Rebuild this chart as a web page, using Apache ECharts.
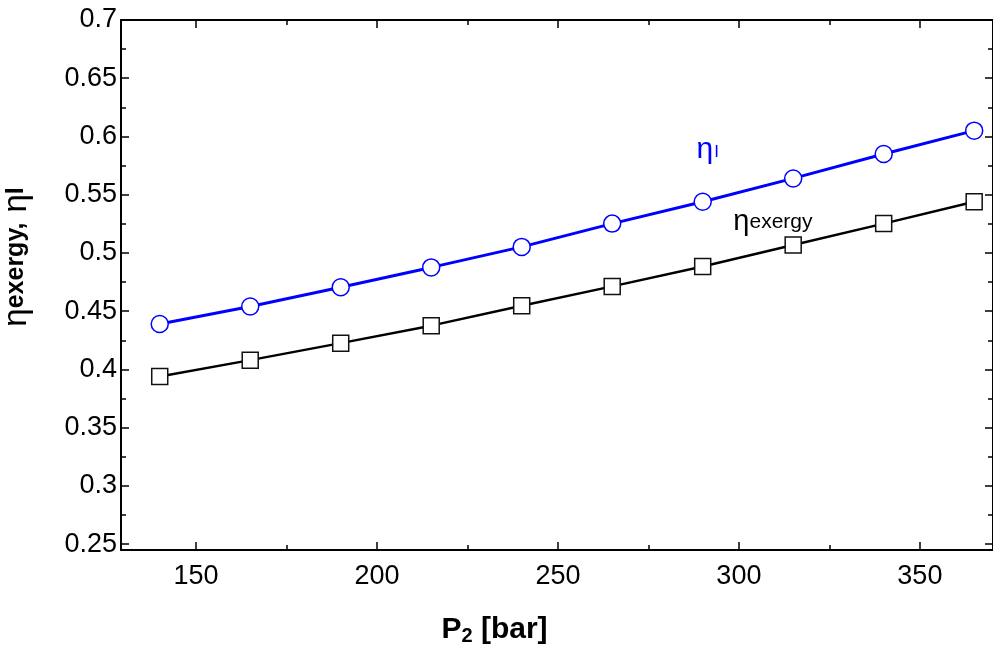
<!DOCTYPE html>
<html>
<head>
<meta charset="utf-8">
<script src="https://cdn.jsdelivr.net/npm/echarts@6/dist/echarts.min.js"></script>
<style>
  html, body { margin: 0; padding: 0; background: #fff; }
  #chart { width: 993px; height: 647px; }
</style>
</head>
<body>
<div id="chart"></div>
<script>
// P2 pressure [bar]
const pressure = [140, 165, 190, 215, 240, 265, 290, 315, 340, 365]
// first-law efficiency (blue circles)
const etaI = [0.439, 0.454, 0.4705, 0.4876, 0.5052, 0.5252, 0.544, 0.564, 0.585, 0.605]
// exergy efficiency (black squares)
const etaExergy = [0.394, 0.408, 0.4226, 0.4376, 0.4547, 0.4713, 0.4884, 0.5069, 0.5252, 0.544]

const xMajor = [150, 200, 250, 300, 350]
const xMinor = [175, 225, 275, 325]
const yMajor = [0.25, 0.3, 0.35, 0.4, 0.45, 0.5, 0.55, 0.6, 0.65, 0.7]
const yMinor = [0.275, 0.325, 0.375, 0.425, 0.475, 0.525, 0.575, 0.625, 0.675]

const X_MIN = 129.3
const X_MAX = 370.2
const Y_MIN = 0.245
const Y_MAX = 0.7

const FONT = 'Liberation Sans, Arial, sans-serif'

const chart = echarts.init(document.getElementById('chart'))

function xAx(position, ticks, len, opts) {
  return Object.assign({
    type: 'value',
    position: position,
    min: X_MIN,
    max: X_MAX,
    axisLine: { show: false, onZero: false },
    axisTick: { show: true, inside: true, length: len, customValues: ticks, lineStyle: { color: '#000', width: 1.5 } },
    axisLabel: { show: false },
    splitLine: { show: false }
  }, opts || {})
}

function yAx(position, ticks, len, opts) {
  return Object.assign({
    type: 'value',
    position: position,
    min: Y_MIN,
    max: Y_MAX,
    axisLine: { show: false, onZero: false },
    axisTick: { show: true, inside: true, length: len, customValues: ticks, lineStyle: { color: '#000', width: 1.5 } },
    axisLabel: { show: false },
    splitLine: { show: false }
  }, opts || {})
}

chart.setOption({
  backgroundColor: '#fff',
  animation: false,
  grid: { left: 121, right: 0, top: 20, bottom: 97, outerBoundsMode: 'none', containLabel: false },
  xAxis: [
    xAx('bottom', xMajor, 8, {
      axisLine: { show: true, onZero: false, lineStyle: { color: '#000', width: 2 } },
      axisLabel: { show: true, customValues: xMajor, color: '#000', fontSize: 27, fontFamily: FONT, margin: 13 },
      name: '{b|P}{s|2}{b| [bar]}',
      nameLocation: 'middle',
      nameGap: 64,
      nameTextStyle: {
        padding: [0, 125, 0, 0],
        rich: {
          b: { fontSize: 30, fontWeight: 'bold', fontFamily: FONT, color: '#000' },
          s: { fontSize: 20, fontWeight: 'bold', fontFamily: FONT, color: '#000', padding: [12, 0, 0, 0] }
        }
      }
    }),
    xAx('bottom', xMinor, 5),
    xAx('top', xMajor, 8, { axisLine: { show: true, onZero: false, lineStyle: { color: '#000', width: 2 } } }),
    xAx('top', xMinor, 5)
  ],
  yAxis: [
    yAx('left', yMajor, 8, {
      axisLine: { show: true, onZero: false, lineStyle: { color: '#000', width: 2 } },
      axisLabel: { show: true, customValues: yMajor, color: '#000', fontSize: 27, fontFamily: FONT, margin: 4 },
      name: '{eta|η}{sub|exergy,}   {eta|η}{sub|I}',
      nameLocation: 'middle',
      nameRotate: 90,
      nameGap: 88,
      nameTextStyle: {
        padding: [0, 0, 0, 56],
        rich: {
          eta: { fontSize: 33, fontFamily: FONT, color: '#000' },
          sub: { fontSize: 25, fontWeight: 'bold', fontFamily: FONT, color: '#000' }
        }
      }
    }),
    yAx('left', yMinor, 5),
    yAx('right', yMajor, 8, { axisLine: { show: true, onZero: false, lineStyle: { color: '#000', width: 2 } } }),
    yAx('right', yMinor, 5)
  ],
  series: [
    {
      name: 'ηI',
      type: 'line',
      xAxisIndex: 0,
      yAxisIndex: 0,
      data: pressure.map((p, i) => [p, etaI[i]]),
      symbol: 'circle',
      symbolSize: 17,
      lineStyle: { color: '#0000ff', width: 3 },
      itemStyle: { color: '#fff', borderColor: '#0000ff', borderWidth: 1.5 },
      z: 3,
      markPoint: {
        symbol: 'circle',
        symbolSize: 0,
        data: [{ coord: [291.4, 0.5884] }],
        label: {
          show: true,
          position: 'inside',
          formatter: '{eta|η}{sub|I}',
          rich: {
            eta: { fontSize: 30, fontFamily: FONT, color: '#0000ff' },
            sub: { fontSize: 17, fontFamily: FONT, color: '#0000ff', padding: [4, 0, 0, 1] }
          }
        }
      }
    },
    {
      name: 'ηexergy',
      type: 'line',
      xAxisIndex: 0,
      yAxisIndex: 0,
      data: pressure.map((p, i) => [p, etaExergy[i]]),
      symbol: 'rect',
      symbolSize: 16,
      lineStyle: { color: '#000', width: 2.5 },
      itemStyle: { color: '#fff', borderColor: '#111', borderWidth: 1.5 },
      z: 2,
      markPoint: {
        symbol: 'circle',
        symbolSize: 0,
        data: [{ coord: [309.4, 0.5266] }],
        label: {
          show: true,
          position: 'inside',
          formatter: '{eta|η}{sub|exergy}',
          rich: {
            eta: { fontSize: 29, fontFamily: FONT, color: '#000' },
            sub: { fontSize: 21, fontFamily: FONT, color: '#000' }
          }
        }
      }
    }
  ]
})
</script>
</body>
</html>
